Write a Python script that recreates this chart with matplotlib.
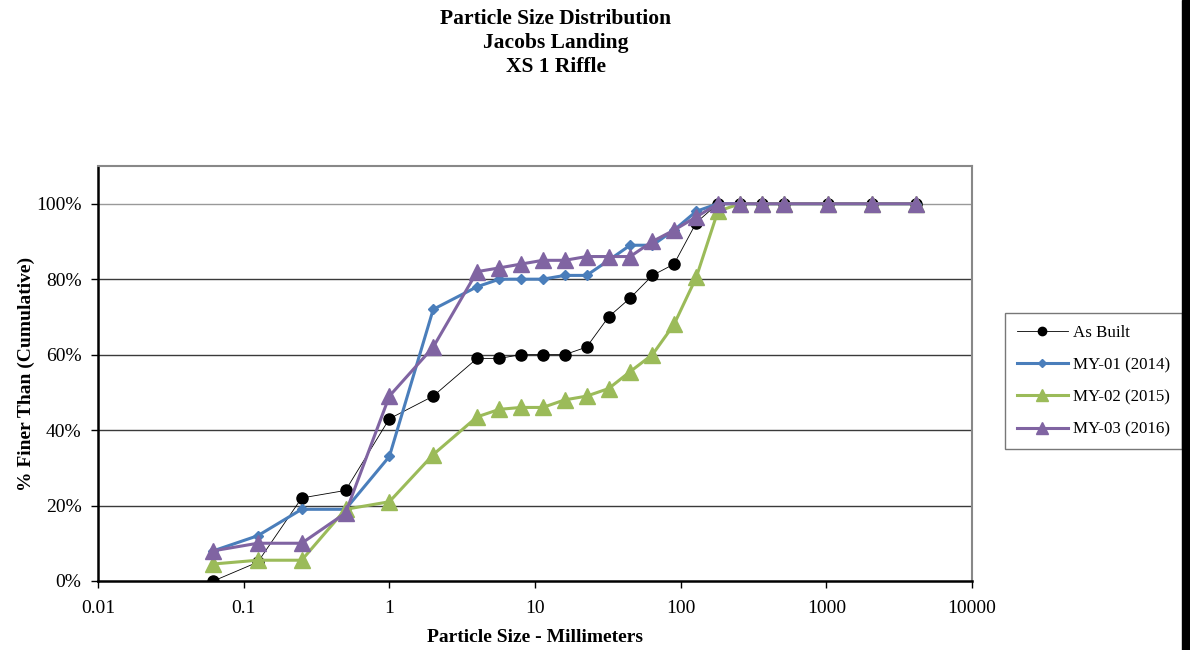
import matplotlib
matplotlib.use("Agg")
from matplotlib import pyplot as plt
from matplotlib import patches
from matplotlib.ticker import FixedLocator, FuncFormatter

plt.rcParams['font.family'] = ['Liberation Serif', 'DejaVu Serif']

# sieve sizes (mm)
sizes = [0.062, 0.125, 0.25, 0.5, 1, 2, 4, 5.7, 8, 11.3, 16, 22.6, 32, 45,
         64, 90, 128, 180, 256, 362, 512, 1024, 2048, 4096]

# percent finer
as_built = [0, 5, 22, 24, 43, 49, 59, 59, 60, 60, 60, 62, 70, 75,
            81, 84, 95, 100, 100, 100, 100, 100, 100, 100]
my01 = [8, 12, 19, 19, 33, 72, 78, 80, 80, 80, 81, 81, 85, 89,
        89, 93, 98, 100, 100, 100, 100, 100, 100, 100]
my02 = [4.5, 5.5, 5.5, 19, 21, 33.5, 43.5, 45.5, 46, 46, 48, 49, 51, 55.5,
        60, 68, 80.5, 98, 100, 100, 100, 100, 100, 100]
my03 = [8, 10, 10, 18, 49, 62, 82, 83, 84, 85, 85, 86, 86, 86,
        90, 93, 96.5, 100, 100, 100, 100, 100, 100, 100]

labels = ["As Built", "MY-01 (2014)", "MY-02 (2015)", "MY-03 (2016)"]

fig = plt.figure(figsize=(11.9, 6.5), dpi=100)
ax = fig.add_axes([0.0824, 0.1062, 0.7344, 0.6384])

ax.plot(sizes, [v / 100 for v in as_built], color='black', lw=0.6,
        marker='o', ms=8, mfc='black', mec='black', label=labels[0], zorder=3)
ax.plot(sizes, [v / 100 for v in my01], color='#4A7EBB', lw=2.2,
        marker='D', ms=5.5, mfc='#4A7EBB', mec='#4A7EBB', label=labels[1], zorder=4)
ax.plot(sizes, [v / 100 for v in my02], color='#9BBB59', lw=2.2,
        marker='^', ms=11, mfc='#9BBB59', mec='#9BBB59', label=labels[2], zorder=5)
ax.plot(sizes, [v / 100 for v in my03], color='#8064A2', lw=2.2,
        marker='^', ms=11, mfc='#8064A2', mec='#8064A2', label=labels[3], zorder=6)

ax.set_xscale('log')
ax.set_xlim(0.01, 10000)
ax.set_ylim(0, 1.1)
ax.xaxis.set_major_locator(FixedLocator([0.01, 0.1, 1, 10, 100, 1000, 10000]))
ax.xaxis.set_minor_locator(FixedLocator([]))
ax.xaxis.set_major_formatter(FuncFormatter(lambda v, p: f"{v:g}"))
ax.yaxis.set_major_locator(FixedLocator([0, 0.2, 0.4, 0.6, 0.8, 1.0]))
ax.yaxis.set_major_formatter(FuncFormatter(lambda v, p: f"{v * 100:.0f}%"))

for yv in [0.2, 0.4, 0.6, 0.8, 1.0]:
    ax.axhline(yv, color='#3a3a3a' if yv < 1 else '#999999', lw=1, zorder=1)

ax.tick_params(axis='both', direction='out', length=5, width=1,
               labelsize=14, colors='black')
ax.tick_params(axis='x', pad=9)
ax.tick_params(axis='y', pad=7)
ax.spines['left'].set_linewidth(1.8)
ax.spines['bottom'].set_linewidth(1.8)
ax.spines['top'].set_color('#888888')
ax.spines['right'].set_color('#888888')
ax.spines['top'].set_linewidth(1.5)
ax.spines['right'].set_linewidth(1.5)

ax.set_xlabel("Particle Size - Millimeters", fontsize=14, fontweight='bold', labelpad=8)
ax.set_ylabel("% Finer Than (Cumulative)", fontsize=14, fontweight='bold', labelpad=1)

fig.text(0.467, 0.986, "Particle Size Distribution\nJacobs Landing\nXS 1 Riffle",
         ha='center', va='top', fontsize=15.5, fontweight='bold', linespacing=1.27)

leg = fig.legend(loc='upper left', fontsize=12.2,
                 frameon=True, fancybox=False, edgecolor='#555555',
                 handlelength=3.0, labelspacing=0.95, borderpad=0.7,
                 handletextpad=0.3, markerscale=0.75)
leg.get_frame().set_linewidth(1)
leg.set_bbox_to_anchor((0.8375, 0.531), transform=fig.transFigure)

# dark edge strip on the right of the page
fig.patches.append(patches.Rectangle((0.9935, 0), 0.0065, 1, transform=fig.transFigure,
                                     color='black', zorder=10))

fig.savefig("out.png", dpi=100)
